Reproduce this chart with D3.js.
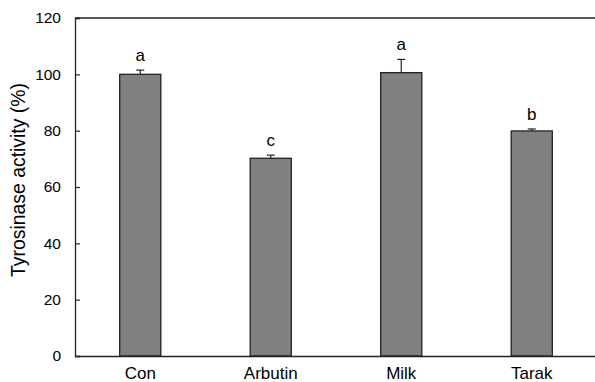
<!DOCTYPE html>
<html>
<head>
<meta charset="utf-8">
<script src="https://cdn.jsdelivr.net/npm/d3@7"></script>
<style>
  body { margin: 0; background: #fff; }
  text { font-family: "Liberation Sans", Arial, sans-serif; fill: #000; }
</style>
</head>
<body>
<svg width="595" height="382"></svg>
<script>
// data
const categories = ["Con", "Arbutin", "Milk", "Tarak"];
const activity = [100, 70.2, 100.6, 79.9];
const errors = [1.5, 1.1, 4.7, 0.7];
const letters = ["a", "c", "a", "b"];
const yTicks = [0, 20, 40, 60, 80, 100, 120];

const width = 595, height = 382;
const margin = { top: 18, right: -2, bottom: 26, left: 75 };

const svg = d3.select("svg");

const x = d3.scaleBand()
    .domain(categories)
    .range([margin.left, width - margin.right])
    .paddingInner(0.685)
    .paddingOuter(0.3425);

const y = d3.scaleLinear()
    .domain([0, 120])
    .range([height - margin.bottom, margin.top]);

// bars
svg.selectAll("rect.bar")
    .data(categories)
    .enter().append("rect")
    .attr("class", "bar")
    .attr("x", d => x(d))
    .attr("y", (d, i) => y(activity[i]))
    .attr("width", x.bandwidth())
    .attr("height", (d, i) => y(0) - y(activity[i]))
    .attr("fill", "#808080")
    .attr("stroke", "#222")
    .attr("stroke-width", 1.3);

// error bars (upper only)
const eb = svg.selectAll("g.err")
    .data(categories)
    .enter().append("g")
    .attr("class", "err");

eb.append("line")
    .attr("x1", d => x(d) + x.bandwidth() / 2)
    .attr("x2", d => x(d) + x.bandwidth() / 2)
    .attr("y1", (d, i) => y(activity[i]))
    .attr("y2", (d, i) => y(activity[i] + errors[i]))
    .attr("stroke", "#222")
    .attr("stroke-width", 1.2);

eb.append("line")
    .attr("x1", d => x(d) + x.bandwidth() / 2 - 4)
    .attr("x2", d => x(d) + x.bandwidth() / 2 + 4)
    .attr("y1", (d, i) => y(activity[i] + errors[i]))
    .attr("y2", (d, i) => y(activity[i] + errors[i]))
    .attr("stroke", "#222")
    .attr("stroke-width", 1.2);

// significance letters
svg.selectAll("text.letter")
    .data(categories)
    .enter().append("text")
    .attr("class", "letter")
    .attr("x", d => x(d) + x.bandwidth() / 2)
    .attr("y", (d, i) => y(activity[i] + errors[i]) - 9)
    .attr("text-anchor", "middle")
    .style("font-size", "17px")
    .text((d, i) => letters[i]);

// y axis
const yAxis = svg.append("g")
    .attr("transform", `translate(${margin.left},0)`)
    .call(d3.axisLeft(y).tickValues(yTicks).tickSize(-5).tickPadding(14));
yAxis.select(".domain").attr("stroke", "#222").attr("stroke-width", 1.3);
yAxis.selectAll(".tick line").attr("stroke", "#222").attr("stroke-width", 1.2);
yAxis.selectAll(".tick text")
    .style("font-size", "15.5px")
    .style("font-family", "'Liberation Sans', Arial, sans-serif");

// x axis
const xAxis = svg.append("g")
    .attr("transform", `translate(0,${y(0)})`)
    .call(d3.axisBottom(x).tickSize(0).tickPadding(11));
xAxis.select(".domain").attr("stroke", "#222").attr("stroke-width", 1.3);
xAxis.selectAll(".tick text")
    .style("font-size", "17px")
    .style("font-family", "'Liberation Sans', Arial, sans-serif");

// top frame line
svg.append("line")
    .attr("x1", margin.left)
    .attr("x2", width)
    .attr("y1", y(120))
    .attr("y2", y(120))
    .attr("stroke", "#222")
    .attr("stroke-width", 1.3);

// y axis title
svg.append("text")
    .attr("transform", "translate(25,180) rotate(-90)")
    .attr("text-anchor", "middle")
    .style("font-size", "19.4px")
    .text("Tyrosinase activity (%)");
</script>
</body>
</html>
